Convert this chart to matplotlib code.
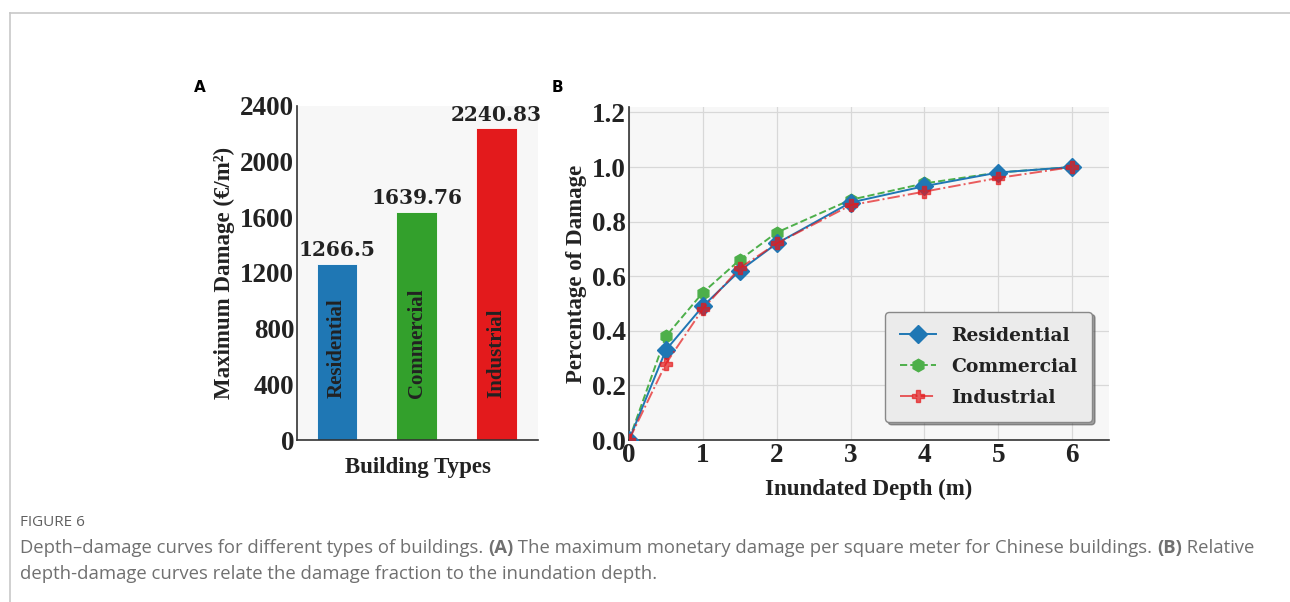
import matplotlib
matplotlib.use("Agg")
import matplotlib.pyplot as plt
from matplotlib.lines import Line2D

# --- data ---
building_types = ["Residential", "Commercial", "Industrial"]
max_damage = [1266.5, 1639.76, 2240.83]
bar_colors = ["#1f77b4", "#33a02c", "#e31a1c"]

depth = [0, 0.5, 1, 1.5, 2, 3, 4, 5, 6]
residential = [0, 0.33, 0.49, 0.62, 0.72, 0.87, 0.93, 0.98, 1.0]
commercial = [0, 0.38, 0.54, 0.66, 0.76, 0.88, 0.94, 0.98, 1.0]
industrial = [0, 0.28, 0.48, 0.63, 0.72, 0.86, 0.91, 0.96, 1.0]

SERIF = "Liberation Serif"
SERIF2 = "DejaVu Serif"
INK = "#222222"

fig = plt.figure(figsize=(12.9, 6.02), dpi=100)
fig.patch.set_facecolor("white")

# page frame (top rule and left rule)
fig.add_artist(Line2D([9.5 / 1290, 1], [1 - 12.5 / 602] * 2, color="#c8c8c8", lw=1.2))
fig.add_artist(Line2D([9.5 / 1290] * 2, [0, 1 - 12.5 / 602], color="#c8c8c8", lw=1.2))


def style_axes(ax):
    ax.set_facecolor("#f7f7f7")
    for s in ["top", "right"]:
        ax.spines[s].set_visible(False)
    for s in ["left", "bottom"]:
        ax.spines[s].set_color("#333333")
        ax.spines[s].set_linewidth(1.2)
    ax.tick_params(length=0, pad=2)
    for lab in ax.get_xticklabels() + ax.get_yticklabels():
        lab.set_fontfamily(SERIF)
        lab.set_fontweight("bold")
        lab.set_fontsize(19.5)
        lab.set_color(INK)


# --- panel A: bars ---
axA = fig.add_axes([297 / 1290, 1 - 440 / 602, 241 / 1290, 334 / 602])
xpos = range(len(building_types))
axA.bar(xpos, max_damage, width=0.51, color=bar_colors, edgecolor="white", linewidth=0.6)
axA.set_xlim(-0.5, 2.52)
axA.set_ylim(0, 2400)
axA.set_yticks([0, 400, 800, 1200, 1600, 2000, 2400])
axA.set_xticks([])
style_axes(axA)
for x, v in zip(xpos, max_damage):
    axA.text(x, v + 25, f"{v:g}", ha="center", va="bottom", family=SERIF2,
             fontweight="bold", fontsize=14.5, color=INK)
    axA.text(x, 300, building_types[x], rotation=90, ha="center", va="bottom",
             family=SERIF, fontweight="bold", fontsize=15, color=INK)
axA.set_xlabel("Building Types", family=SERIF, fontweight="bold", fontsize=16.5,
               color=INK, labelpad=12)
axA.set_ylabel("Maximum Damage (€/m²)", family=SERIF, fontweight="bold", fontsize=16.5,
               color=INK, labelpad=4)

# --- panel B: depth-damage curves ---
axB = fig.add_axes([629 / 1290, 1 - 440 / 602, 480 / 1290, 333 / 602])
axB.grid(True, color="#d8d8d8", lw=0.9)
axB.set_axisbelow(True)
axB.plot(depth, residential, color="#1f77b4", ls="-", lw=1.4, marker="D", ms=9.5,
         label="Residential", zorder=3)
axB.plot(depth, commercial, color="#4daf4a", ls="--", lw=1.4, marker="h", ms=9,
         label="Commercial", zorder=2)
axB.plot(depth, industrial, color="#e41a1c", alpha=0.7, ls="-.", lw=1.4, marker="P", ms=9,
         label="Industrial", zorder=4)
axB.set_xlim(0, 6.5)
axB.set_ylim(0, 1.22)
axB.set_xticks([0, 1, 2, 3, 4, 5, 6])
axB.set_yticks([0, 0.2, 0.4, 0.6, 0.8, 1.0, 1.2])
axB.set_yticklabels(["0.0", "0.2", "0.4", "0.6", "0.8", "1.0", "1.2"])
style_axes(axB)
axB.set_xlabel("Inundated Depth (m)", family=SERIF, fontweight="bold", fontsize=16.5,
               color=INK, labelpad=8)
axB.set_ylabel("Percentage of Damage", family=SERIF, fontweight="bold", fontsize=16.5,
               color=INK, labelpad=4)
leg = axB.legend(loc="lower right", bbox_to_anchor=(0.965, 0.054), borderaxespad=0,
                 frameon=True, shadow=True, fancybox=True,
                 prop={"family": SERIF2, "weight": "bold", "size": 13.5},
                 handlelength=1.9, borderpad=0.8, labelspacing=0.7, handletextpad=0.8)
leg.get_frame().set_facecolor("#ebebeb")
leg.get_frame().set_edgecolor("#888888")
leg.get_frame().set_alpha(1)
for t in leg.get_texts():
    t.set_color(INK)

# panel letters
fig.text(200 / 1290, 1 - 88 / 602, "A", ha="center", va="center", fontsize=11,
         fontweight="bold", family="DejaVu Sans")
fig.text(557 / 1290, 1 - 88 / 602, "B", ha="center", va="center", fontsize=11,
         fontweight="bold", family="DejaVu Sans")

# --- caption ---
cap_font = "Open Sans"
cap_col = "#707070"
cap_size = 13.3
fig.text(20 / 1290, 1 - 523 / 602, "FIGURE 6", ha="left", va="center", fontsize=11,
         family=cap_font, color="#606060")

line1 = [("Depth–damage curves for different types of buildings. ", "normal"),
         ("(A)", "bold"),
         (" The maximum monetary damage per square meter for Chinese buildings. ", "normal"),
         ("(B)", "bold"),
         (" Relative", "normal")]
pieces = [fig.text(0, 0, txt, ha="left", va="baseline", fontsize=cap_size,
                   family=cap_font, color=cap_col, fontweight=w) for txt, w in line1]

# chain the caption pieces along one baseline
r = fig.canvas.get_renderer()
xcur = 20
ybase = 1 - 553 / 602
for t in pieces:
    t.set_position((xcur / fig.bbox.width, ybase))
    fig.canvas.draw()
    xcur = t.get_window_extent(r).x1

fig.text(20 / 1290, 1 - 579 / 602,
         "depth-damage curves relate the damage fraction to the inundation depth.",
         ha="left", va="baseline", fontsize=cap_size, family=cap_font, color=cap_col)

fig.savefig("out.png", dpi=100)
